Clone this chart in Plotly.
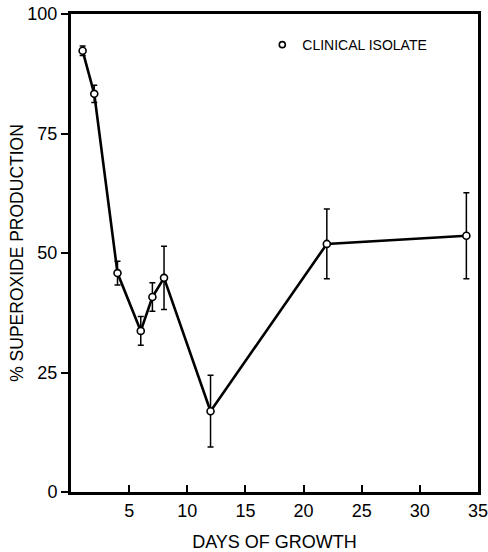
import plotly.graph_objects as go

days = [1, 2, 4, 6, 7, 8, 12, 22, 34]
superoxide = [92.3, 83.3, 45.8, 33.7, 40.8, 44.8, 16.9, 51.9, 53.6]
err = [1.0, 1.8, 2.5, 3.0, 3.0, 6.6, 7.5, 7.3, 9.0]

x_ticks = [5, 10, 15, 20, 25, 30, 35]
y_ticks = [0, 25, 50, 75, 100]

FONT = "Liberation Sans"

fig = go.Figure()
fig.add_trace(go.Scatter(
    x=days, y=superoxide, mode="lines+markers",
    line=dict(color="black", width=2.6),
    marker=dict(symbol="circle", size=7, color="white", line=dict(color="black", width=1.6)),
    error_y=dict(type="data", array=err, visible=True, color="black", thickness=1.5, width=3),
    showlegend=False,
))
fig.add_trace(go.Scatter(
    x=[None], y=[None], mode="markers", name="CLINICAL ISOLATE",
    marker=dict(symbol="circle", size=6, color="white", line=dict(color="black", width=1.6)),
    showlegend=True,
))

fig.update_layout(
    width=488, height=552,
    margin=dict(l=71, r=10, t=14, b=60),
    paper_bgcolor="white", plot_bgcolor="white",
    font=dict(family=FONT, color="black"),
    legend=dict(x=0.47, y=0.935, xanchor="left", yanchor="middle",
                bgcolor="rgba(0,0,0,0)", font=dict(size=14, family=FONT),
                itemwidth=30),
    xaxis=dict(range=[0, 35], tickvals=x_ticks, ticktext=[str(v) for v in x_ticks],
               ticks="inside", ticklen=7, tickwidth=1.5, tickcolor="black",
               showline=True, linewidth=3, linecolor="black", mirror=True,
               showgrid=False, zeroline=False, automargin=False,
               ticklabeloverflow="allow",
               tickfont=dict(size=18),
               title=dict(text="DAYS OF GROWTH", font=dict(size=18), standoff=19)),
    yaxis=dict(range=[0, 100], tickvals=y_ticks, ticktext=[str(v) for v in y_ticks],
               ticks="outside", ticklen=7, tickwidth=1.5, tickcolor="black",
               showline=True, linewidth=3, linecolor="black", mirror=True,
               showgrid=False, zeroline=False, automargin=False,
               ticklabeloverflow="allow",
               tickfont=dict(size=18),
               title=dict(text="% SUPEROXIDE PRODUCTION", font=dict(size=17.5), standoff=0)),
)

fig.write_html("out.html")
